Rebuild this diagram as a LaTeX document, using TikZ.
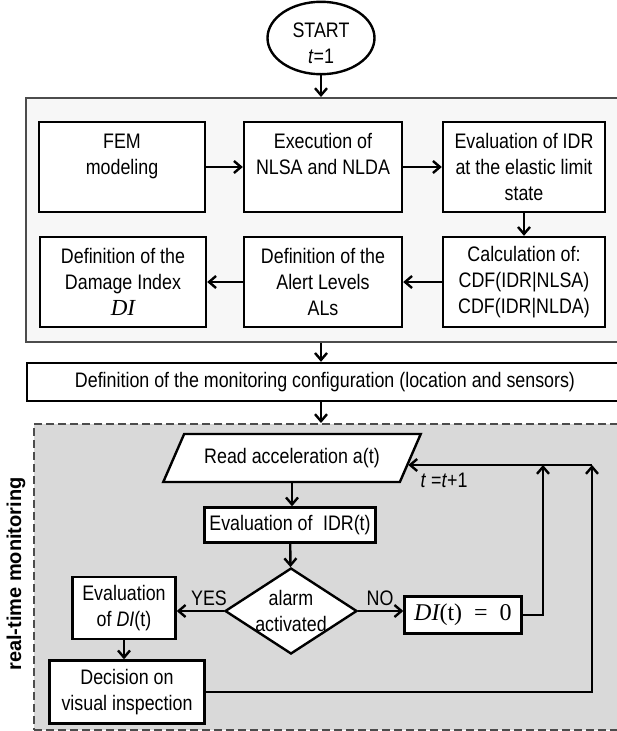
\documentclass[tikz,border=0pt]{standalone}
\usepackage{fontspec}
\setmainfont{Liberation Sans}[FakeStretch=0.85]
\newfontfamily\sidefont{Liberation Sans}
\newfontfamily\mathfont{Liberation Serif}
\usetikzlibrary{shapes.geometric,arrows.meta,calc}

\newcommand{\varDI}{{\mathfont\itshape DI}}
\tikzset{
  flowbox/.style={draw,line width=2.4pt,fill=white,align=center,inner sep=0pt},
  flowarrow/.style={line width=2.4pt,-{Straight Barb[length=7pt,width=12pt,line width=2.4pt]}},
  rowone/.style={flowbox,minimum height=90,anchor=center},
}

\begin{document}
\begin{tikzpicture}[x=1pt,y=-1pt,font=\fontsize{21}{26}\selectfont]
\useasboundingbox (0,0) rectangle (617,731);
%
\node[ellipse,draw,line width=2.4pt,minimum width=107,minimum height=62,inner sep=0pt,align=center] (start) at (321,38) {\rule{0pt}{25pt}START\\\textit{t}=1};
\node[draw=black!70,line width=1.8pt,fill=black!3,minimum width=606,minimum height=244,anchor=north west] (prep) at (25,97) {};
%
\node[rowone,minimum width=166] (fem) at (122,167) {FEM\\modeling\\~};
\node[rowone,minimum width=158] (exec) at (323,167) {Execution of\\NLSA and NLDA\\~};
\node[rowone,minimum width=162] (evalidr) at (524,167) {Evaluation of IDR\\at the elastic limit\\state};
\node[rowone,minimum width=166] (damage) at (123,282) {Definition of the\\Damage Index\\{\fontsize{23}{26}\selectfont\varDI}};
\node[rowone,minimum width=158] (alert) at (323,282) {Definition of the\\Alert Levels\\ALs};
\node[rowone,minimum width=162] (calc) at (524,282) {Calculation of:\\CDF(IDR|NLSA)\\CDF(IDR|NLDA)};
%
\node[flowbox,minimum width=596,minimum height=38] (config) at (325,382) {Definition of the monitoring configuration (location and sensors)};
%
\node[draw=black!70,dashed,dash pattern=on 8pt off 4pt,line width=2pt,fill=black!15,minimum width=607,minimum height=306,anchor=north west] (monitor) at (33,423) {};
\node[rotate=90,font=\sidefont\bfseries\fontsize{20}{24}\selectfont] (side) at (16,574) {real-time monitoring};
%
\node[flowbox,trapezium,trapezium left angle=49,trapezium right angle=131,trapezium stretches=true,minimum width=258,minimum height=48] (read) at (292,458) {Read acceleration a(t)};
\node[flowbox,minimum width=171,minimum height=35] (idr) at (290,525) {Evaluation of\enspace IDR(t)};
\node[flowbox,diamond,minimum width=132,minimum height=86] (alarm) at (291,611) {\makebox[0pt]{alarm}\\\makebox[0pt]{activated}};
\node[flowbox,minimum width=103,minimum height=62] (evaldi) at (124,608) {Evaluation\\of \textit{DI}(t)};
\node[flowbox,minimum width=155,minimum height=63] (decision) at (127,692) {Decision on\\visual inspection};
\node[flowbox,minimum width=117,minimum height=37,font=\fontsize{24}{26}\selectfont] (dizero) at (463,615) {\varDI{\mathfont(t)\enspace=\enspace0}};
\node (yes) at (209,598) {YES};
\node (no) at (380,598) {NO};
\node (tinc) at (444,480) {\textit{t} =\textit{t}+1};
\coordinate (loopa) at (543,465);
\coordinate (loopb) at (592,465);
\coordinate (readin) at ($(read.top right corner)!0.65!(read.bottom right corner)$);
%
\draw[flowarrow] (start.south) -- (start.south |- prep.north);
\draw[flowarrow] (fem.east) -- (fem.east -| exec.west);
\draw[flowarrow] (exec.east) -- (exec.east -| evalidr.west);
\draw[flowarrow] (evalidr) -- (calc);
\draw[flowarrow] (calc.west) -- (calc.west -| alert.east);
\draw[flowarrow] (alert.west) -- (alert.west -| damage.east);
\draw[flowarrow] (start.south |- prep.south) -- (start.south |- config.north);
\draw[flowarrow] (start.south |- config.south) -- (start.south |- monitor.north);
%
\draw[flowarrow] (read.south) -- (read.south |- idr.north);
\draw[flowarrow] (idr) -- (alarm);
\draw[flowarrow] (alarm.west) -- (alarm.west -| evaldi.east);
\draw[flowarrow] (alarm.east) -- (alarm.east -| dizero.west);
\draw[flowarrow] (evaldi.south) -- (evaldi.south |- decision.north);
\draw[flowarrow] (dizero.east) -| (loopa);
\draw[flowarrow] (decision.east) -| (loopb);
\draw[flowarrow] (loopb) -- (loopb -| readin);
\end{tikzpicture}
\end{document}
